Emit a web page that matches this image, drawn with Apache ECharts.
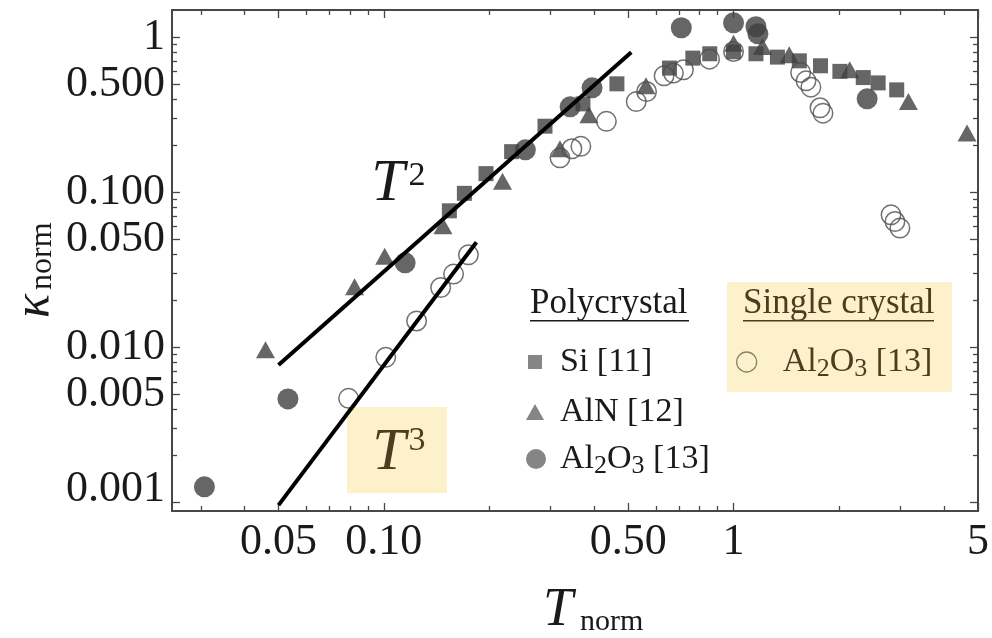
<!DOCTYPE html>
<html>
<head>
<meta charset="utf-8">
<title>Normalised thermal conductivity</title>
<script src="https://cdn.jsdelivr.net/npm/echarts@6/dist/echarts.min.js"></script>
<style>
  html, body { margin: 0; padding: 0; background: #ffffff; }
  #chart { width: 992px; height: 638px; }
</style>
</head>
<body>
<div id="chart"></div>
<script>
// Normalised thermal conductivity vs normalised temperature (log-log)

// Polycrystalline Si [11]
const siT = [0.154, 0.170, 0.196, 0.232, 0.289, 0.371, 0.464, 0.656, 0.765, 0.855, 1.0, 1.159, 1.335, 1.542, 1.773, 2.014, 2.349, 2.591, 2.928];
const siK = [0.076, 0.0985, 0.132, 0.183, 0.267, 0.372, 0.501, 0.633, 0.734, 0.783, 0.806, 0.783, 0.745, 0.705, 0.655, 0.603, 0.550, 0.508, 0.458];

// Polycrystalline AlN [12]
const alnT = [0.0459, 0.0825, 0.1006, 0.1476, 0.2185, 0.319, 0.386, 0.562, 1.0, 1.21, 1.443, 2.149, 3.162, 4.652];
const alnK = [0.00964, 0.0246, 0.0387, 0.0608, 0.1177, 0.191, 0.316, 0.487, 0.915, 0.872, 0.771, 0.617, 0.385, 0.241];

// Polycrystalline Al2O3 [13]
const polyT = [0.0307, 0.0532, 0.1151, 0.254, 0.341, 0.394, 0.709, 1.0, 1.159, 1.174, 2.41];
const polyK = [0.00126, 0.00465, 0.0351, 0.188, 0.356, 0.472, 1.152, 1.24, 1.169, 1.053, 0.401];

// Single-crystal Al2O3 [13]
const singleT = [0.0793, 0.1013, 0.1241, 0.1454, 0.1583, 0.1746, 0.319, 0.345, 0.366, 0.433, 0.527, 0.564, 0.633, 0.673, 0.719, 0.854, 1.0, 1.555, 1.612, 1.664, 1.767, 1.802, 2.82, 2.894, 2.99];
const singleK = [0.00469, 0.00862, 0.0148, 0.0243, 0.0297, 0.0395, 0.167, 0.191, 0.198, 0.287, 0.385, 0.447, 0.564, 0.588, 0.617, 0.723, 0.81, 0.593, 0.524, 0.477, 0.351, 0.324, 0.0716, 0.0648, 0.0588];

// Power-law guide lines (end points)
const t2T = [0.05, 0.51];
const t2K = [0.0077, 0.80];
const t3T = [0.05, 0.184];
const t3K = [0.00096, 0.0476];

// Axis ticks
const xMajorTicks = [0.05, 0.1, 0.5, 1, 5];
const xTickLabels = ['0.05', '0.10', '0.50', '1', '5'];
const xMinorTicks = [0.03, 0.04, 0.06, 0.07, 0.08, 0.09, 0.2, 0.3, 0.4, 0.6, 0.7, 0.8, 0.9, 2, 3, 4];
const yMajorTicks = [0.001, 0.005, 0.01, 0.05, 0.1, 0.5, 1];
const yTickLabels = ['{lo|0.001}', '0.005', '0.010', '0.050', '0.100', '0.500', '1'];
const yMinorTicks = [0.002, 0.003, 0.004, 0.006, 0.007, 0.008, 0.009,
                     0.02, 0.03, 0.04, 0.06, 0.07, 0.08, 0.09,
                     0.2, 0.3, 0.4, 0.6, 0.7, 0.8, 0.9];

const X_RANGE = [0.0248, 5];
const Y_RANGE = [0.00088, 1.5];

const SERIF = '"Liberation Serif", "Times New Roman", serif';
const INK = '#1a1a1a';
const FRAME = '#474747';
const MARK = '#404040';
const LEGEND_MARK = '#666666';
const BOX_FILL = '#fdf1cc';
const BOX_INK = '#4b3e1e';

const zip = (xs, ys) => xs.map((x, i) => [x, ys[i]]);

function labelFor(ticks, labels) {
  return function (v) {
    let best = 0, bestD = Infinity;
    ticks.forEach((t, i) => {
      const d = Math.abs(Math.log(v) - Math.log(t));
      if (d < bestD) { bestD = d; best = i; }
    });
    return labels[best];
  };
}

function logAxis(range, position, ticks, tickLen, showLine, labelCfg) {
  return {
    type: 'log',
    logBase: 10,
    position: position,
    min: range[0],
    max: range[1],
    axisLine: { show: showLine, onZero: false, lineStyle: { color: FRAME, width: 2 } },
    axisTick: { show: true, inside: true, length: tickLen, customValues: ticks,
                lineStyle: { color: FRAME, width: 1.3 } },
    minorTick: { show: false },
    splitLine: { show: false },
    axisLabel: labelCfg || { show: false }
  };
}

const xLabelCfg = {
  show: true, customValues: xMajorTicks, formatter: labelFor(xMajorTicks, xTickLabels),
  fontFamily: SERIF, fontSize: 44, color: INK, margin: 9
};
const yLabelCfg = {
  show: true, customValues: yMajorTicks, formatter: labelFor(yMajorTicks, yTickLabels),
  fontFamily: SERIF, fontSize: 44, color: INK, margin: 7,
  // the lowest label sits a little above its tick, clear of the corner
  rich: { lo: { fontFamily: SERIF, fontSize: 44, color: INK, padding: [0, 0, 26, 0] } }
};

// legend text: plain part plus subscripts
const legendNames = {
  'Si [11]': 'Si [11]',
  'AlN [12]': 'AlN [12]',
  'Al2O3 poly': 'Al{s|2}O{s|3} [13]',
  'Al2O3 single': 'Al{s|2}O{s|3} [13]'
};

function legendItem(name, icon, cx, cy, w, h, textX, iconStyle, textColor) {
  const left = cx - w / 2;
  return {
    data: [{ name: name, icon: icon }],
    orient: 'vertical',
    left: left,
    top: cy - 20,
    padding: 0,
    itemWidth: w,
    itemHeight: h,
    selectedMode: false,
    itemStyle: iconStyle,
    formatter: n => legendNames[n],
    textStyle: {
      fontFamily: SERIF, fontSize: 34, lineHeight: 40, color: textColor,
      padding: [0, 0, 0, textX - (left + w + 5)],
      rich: { s: { fontFamily: SERIF, fontSize: 26, lineHeight: 4, verticalAlign: 'bottom', color: textColor } }
    }
  };
}

const option = {
  animation: false,
  backgroundColor: '#ffffff',
  grid: { left: 172, right: 9, top: 10, bottom: 127, containLabel: false },
  xAxis: [
    logAxis(X_RANGE, 'bottom', xMajorTicks, 8, true, xLabelCfg),
    logAxis(X_RANGE, 'bottom', xMinorTicks, 5, false),
    logAxis(X_RANGE, 'top', xMajorTicks, 8, true),
    logAxis(X_RANGE, 'top', xMinorTicks, 5, false)
  ],
  yAxis: [
    logAxis(Y_RANGE, 'left', yMajorTicks, 8, true, yLabelCfg),
    logAxis(Y_RANGE, 'left', yMinorTicks, 5, false),
    logAxis(Y_RANGE, 'right', yMajorTicks, 8, true),
    logAxis(Y_RANGE, 'right', yMinorTicks, 5, false)
  ],
  legend: [
    legendItem('Si [11]', 'rect', 535, 362, 14, 14, 560, { color: LEGEND_MARK }, INK),
    legendItem('AlN [12]', 'triangle', 535, 412, 18, 16, 560, { color: LEGEND_MARK }, INK),
    legendItem('Al2O3 poly', 'circle', 536, 459, 20, 20, 560, { color: LEGEND_MARK }, INK),
    legendItem('Al2O3 single', 'circle', 746, 362, 20, 20, 782,
               { color: 'rgba(0,0,0,0)', borderColor: '#6e6652', borderWidth: 1.3 }, BOX_INK)
  ],
  graphic: [
    // shaded boxes
    { type: 'rect', z: 0, silent: true, shape: { x: 347, y: 407, width: 100, height: 86 }, style: { fill: BOX_FILL } },
    { type: 'rect', z: 0, silent: true, shape: { x: 727, y: 282, width: 225, height: 110 }, style: { fill: BOX_FILL } },
    // slope labels
    { type: 'text', z: 5, silent: true, style: { text: 'T', x: 388, y: 184, fontFamily: SERIF, fontStyle: 'italic', fontSize: 60, fill: INK, align: 'center', verticalAlign: 'middle' } },
    { type: 'text', z: 5, silent: true, style: { text: '2', x: 417, y: 176, fontFamily: SERIF, fontSize: 34, fill: INK, align: 'center', verticalAlign: 'middle' } },
    { type: 'text', z: 1, silent: true, style: { text: 'T', x: 389, y: 453, fontFamily: SERIF, fontStyle: 'italic', fontSize: 60, fill: BOX_INK, align: 'center', verticalAlign: 'middle' } },
    { type: 'text', z: 1, silent: true, style: { text: '3', x: 417, y: 441, fontFamily: SERIF, fontSize: 34, fill: BOX_INK, align: 'center', verticalAlign: 'middle' } },
    // legend headers
    { type: 'text', z: 5, silent: true, style: { text: 'Polycrystal', x: 530, y: 304, fontFamily: SERIF, fontSize: 35, fill: INK, align: 'left', verticalAlign: 'middle' } },
    { type: 'rect', z: 5, silent: true, shape: { x: 530, y: 320, width: 159, height: 1.5 }, style: { fill: INK } },
    { type: 'text', z: 5, silent: true, style: { text: 'Single crystal', x: 743, y: 304, fontFamily: SERIF, fontSize: 35, fill: BOX_INK, align: 'left', verticalAlign: 'middle' } },
    { type: 'rect', z: 5, silent: true, shape: { x: 743, y: 320, width: 191, height: 1.5 }, style: { fill: BOX_INK } },
    // axis names
    { type: 'text', z: 5, silent: true, style: { text: 'T', x: 558, y: 611, fontFamily: SERIF, fontStyle: 'italic', fontSize: 54, fill: INK, align: 'center', verticalAlign: 'middle' } },
    { type: 'text', z: 5, silent: true, style: { text: 'norm', x: 580, y: 622, fontFamily: SERIF, fontSize: 30, fill: INK, align: 'left', verticalAlign: 'middle' } },
    { type: 'text', z: 5, silent: true, rotation: Math.PI / 2, x: 35, y: 306, style: { text: '\u03ba', x: 0, y: 0, fontFamily: SERIF, fontStyle: 'italic', fontSize: 50, fill: INK, align: 'center', verticalAlign: 'middle' } },
    { type: 'text', z: 5, silent: true, rotation: Math.PI / 2, x: 43, y: 290, style: { text: 'norm', x: 0, y: 0, fontFamily: SERIF, fontSize: 32, fill: INK, align: 'left', verticalAlign: 'middle' } }
  ],
  series: [
    {
      name: 'Si [11]', type: 'scatter', symbol: 'rect', symbolSize: 15,
      itemStyle: { color: MARK }, data: zip(siT, siK), z: 2, silent: true
    },
    {
      name: 'AlN [12]', type: 'scatter', symbol: 'triangle', symbolSize: [19, 17],
      itemStyle: { color: MARK }, data: zip(alnT, alnK), z: 2, silent: true
    },
    {
      name: 'Al2O3 poly', type: 'scatter', symbol: 'circle', symbolSize: 21,
      itemStyle: { color: MARK }, data: zip(polyT, polyK), z: 2, silent: true
    },
    {
      name: 'Al2O3 single', type: 'scatter', symbol: 'circle', symbolSize: 19.5,
      itemStyle: { color: 'rgba(0,0,0,0)', borderColor: '#4d4d4d', borderWidth: 1.5 },
      data: zip(singleT, singleK), z: 2, silent: true
    },
    {
      name: 'T2 guide', type: 'line', showSymbol: false, symbol: 'none', z: 3, silent: true,
      lineStyle: { color: '#000000', width: 4 }, data: zip(t2T, t2K)
    },
    {
      name: 'T3 guide', type: 'line', showSymbol: false, symbol: 'none', z: 3, silent: true,
      lineStyle: { color: '#000000', width: 4 }, data: zip(t3T, t3K)
    }
  ]
};

const chart = echarts.init(document.getElementById('chart'));
chart.setOption(option);
</script>
</body>
</html>
